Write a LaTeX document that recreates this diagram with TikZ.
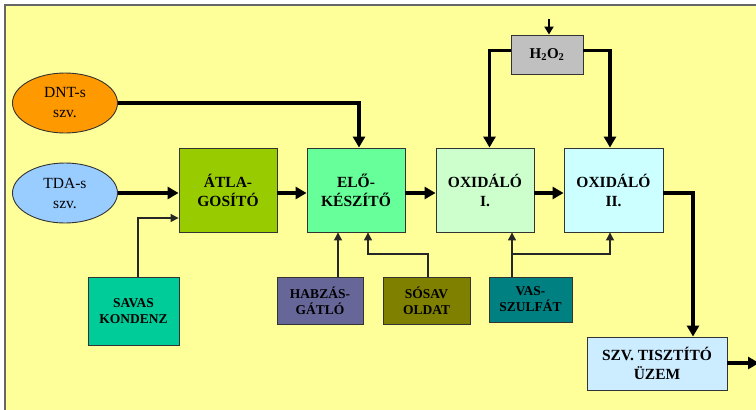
\documentclass[tikz,border=0pt]{standalone}
\usepackage{fontspec}
\setmainfont{Liberation Serif}
\usetikzlibrary{arrows.meta,shapes.geometric}
\definecolor{bgyellow}{HTML}{FFFF99}
\definecolor{cdnt}{HTML}{FF9900}
\definecolor{ctda}{HTML}{99CCFF}
\definecolor{catla}{HTML}{99CC00}
\definecolor{celo}{HTML}{66FF99}
\definecolor{cox1}{HTML}{CCFFCC}
\definecolor{cox2}{HTML}{CCFFFF}
\definecolor{ch2o2}{HTML}{C0C0C0}
\definecolor{csavas}{HTML}{00CC99}
\definecolor{chab}{HTML}{666699}
\definecolor{csosav}{HTML}{808000}
\definecolor{cvas}{HTML}{008080}
\definecolor{cszv}{HTML}{CCECFF}
\tikzset{
  box/.style={draw=black!80, line width=0.9pt, rectangle, inner sep=0pt, align=center, font=\fontsize{15.5}{19}\selectfont\bfseries},
  smallbox/.style={box, font=\fontsize{13.5}{16}\selectfont\bfseries},
  oval/.style={draw=black!80, line width=0.9pt, ellipse, inner sep=0pt, align=center, minimum width=105pt, minimum height=60pt, font=\fontsize{15.5}{20}\selectfont},
  flow/.style={line width=3.6pt, -{Triangle[length=11pt,width=12pt]}},
  feed/.style={line width=1.3pt, draw=black!85, -{Triangle[length=8pt,width=8pt]}}
}
\begin{document}
\begin{tikzpicture}[x=1pt,y=-1pt]
\useasboundingbox (0,0) rectangle (756,410);
\fill[white] (0,0) rectangle (756,410);
\draw[fill=bgyellow, draw=black!60, line width=1.5pt] (5,5) rectangle (770,420);

\node[oval, fill=cdnt] (dnt) at (65,103) {DNT-s\\szv.};
\node[oval, fill=ctda] (tda) at (65,193) {TDA-s\\szv.};

\node[box, fill=catla, minimum width=98pt, minimum height=84pt] (atla) at (228,190) {ÁTLA-\\GOSÍTÓ};
\node[box, fill=celo, minimum width=98pt, minimum height=84pt] (elo) at (356,190) {ELŐ-\\KÉSZÍTŐ};
\node[box, fill=cox1, minimum width=98pt, minimum height=84pt] (ox1) at (485,190) {OXIDÁLÓ\\I.};
\node[box, fill=cox2, minimum width=99pt, minimum height=84pt] (ox2) at (613.5,190) {OXIDÁLÓ\\II.};
\node[smallbox, fill=ch2o2, minimum width=72pt, minimum height=39pt, font=\fontsize{15}{18}\selectfont\bfseries] (h2o2) at (547,54.5) {H\textsubscript{2}O\textsubscript{2}};

\node[smallbox, fill=csavas, minimum width=91pt, minimum height=68pt] (savas) at (133.5,311) {SAVAS\\KONDENZ};
\node[smallbox, fill=chab, minimum width=86pt, minimum height=47pt] (hab) at (320,300.5) {HABZÁS-\\GÁTLÓ};
\node[smallbox, fill=csosav, minimum width=87pt, minimum height=47pt] (sosav) at (426.5,300.5) {SÓSAV\\OLDAT};
\node[smallbox, fill=cvas, minimum width=83pt, minimum height=45pt] (vas) at (530.5,299.5) {VAS-\\SZULFÁT};
\node[box, fill=cszv, minimum width=140pt, minimum height=53pt] (szv) at (657,363.5) {SZV. TISZTÍTÓ\\ÜZEM};

\coordinate (htop) at (549,19);
\coordinate (out) at (759,363);
\coordinate (j1) at (368,254);
\coordinate (j2) at (512,254);

% main flow
\draw[flow] (dnt.east) -| ([xshift=3]elo.north);
\draw[flow] (tda.east) -- (tda.east -| atla.west);
\draw[flow] ([yshift=-3]atla.east) -- ([yshift=-3]elo.west);
\draw[flow] ([yshift=-3]elo.east) -- ([yshift=-3]ox1.west);
\draw[flow] ([yshift=-3]ox1.east) -- ([yshift=-3]ox2.west);
\draw[flow] ([yshift=-3]ox2.east) -| ([xshift=36]szv.north);
\draw[flow] ([yshift=0.5]szv.east) -- (out);

% H2O2
\draw[line width=2.5pt, -{Triangle[length=8pt,width=9pt]}] (htop) -- (htop |- h2o2.north);
\draw[flow] ([yshift=4]h2o2.west) -| ([xshift=4.5]ox1.north);
\draw[flow] ([yshift=4]h2o2.east) -| ([xshift=-3.5]ox2.north);

% feeds
\draw[feed] ([xshift=4.5]savas.north) |- ([yshift=-28]atla.west);
\draw[feed] ([xshift=18]hab.north) -- ([xshift=18]hab.north |- elo.south);
\draw[feed] ([xshift=1.5]sosav.north) |- (j1) -- (j1 |- elo.south);
\draw[feed] (j2 |- vas.north) -- (j2 |- ox1.south);
\draw[feed] (j2) -| ([xshift=-3.5]ox2.south);
\end{tikzpicture}
\end{document}
